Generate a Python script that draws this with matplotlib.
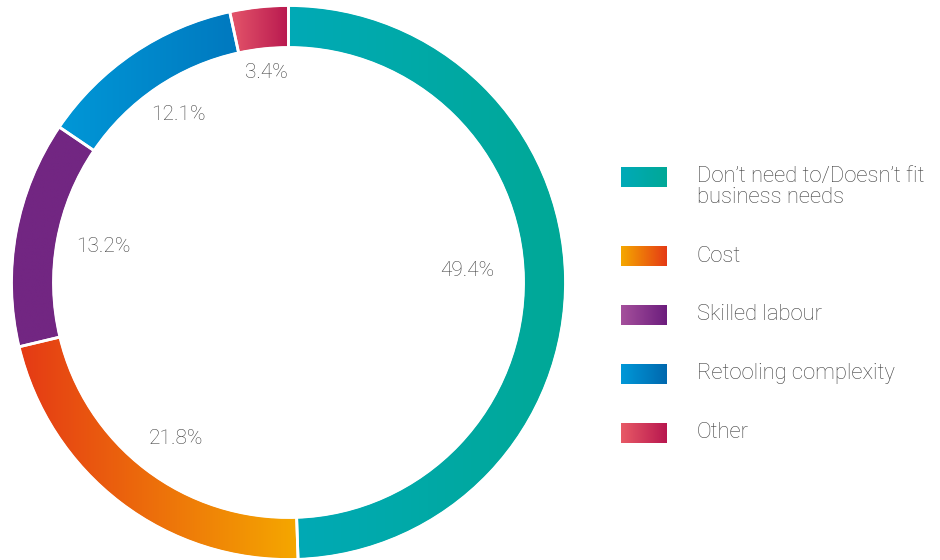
import matplotlib.pyplot as plt
import numpy as np
from matplotlib.patches import Wedge, Rectangle
from matplotlib.colors import LinearSegmentedColormap

plt.rcParams['font.family'] = ['Roboto', 'DejaVu Sans']

labels = ["Don\u2019t need to/Doesn\u2019t fit\nbusiness needs", "Cost", "Skilled labour",
          "Retooling complexity", "Other"]
values = [49.4, 21.8, 13.2, 12.1, 3.4]

# left -> right gradient colours for the ring segments and legend swatches
ring_grad = [("#00aab6", "#00a896"), ("#e53a15", "#f5a800"), ("#722682", "#722682"),
             ("#0097d7", "#0070b8"), ("#e5566a", "#b8184f")]
key_grad = [("#00aab8", "#00a897"), ("#f5a800", "#e53a15"), ("#a5509c", "#6c1d7d"),
            ("#0098d8", "#0068ae"), ("#e85a66", "#b8174f")]

# label anchor positions (pixels from top-left)
label_pos = [(467, 270), (176, 438), (103, 246), (178, 115), (266, 73)]

W, H = 940, 560
fig = plt.figure(figsize=(9.4, 5.6), dpi=100)
ax = fig.add_axes([0, 0, 1, 1])
ax.set_xlim(0, W)
ax.set_ylim(0, H)
ax.axis("off")

cx, cy = 288.5, H - 282.5
r_out, ring_w = 276, 40
grey = "#404040"


def gradient_fill(ax, patch, c1, c2):
    ax.add_patch(patch)
    verts = patch.get_path().vertices
    verts = patch.get_patch_transform().transform(verts)
    x0, x1 = verts[:, 0].min(), verts[:, 0].max()
    y0, y1 = verts[:, 1].min(), verts[:, 1].max()
    cmap = LinearSegmentedColormap.from_list("g", [c1, c2])
    grad = np.linspace(0, 1, 256).reshape(1, -1)
    im = ax.imshow(grad, cmap=cmap, extent=(x0, x1, y0, y1), aspect="auto",
                   interpolation="bilinear", zorder=1)
    im.set_clip_path(patch)


start = 90.0
total = sum(values)
for val, (c1, c2) in zip(values, ring_grad):
    sweep = val / total * 360
    w = Wedge((cx, cy), r_out, start - sweep, start, width=ring_w,
              facecolor="none", edgecolor="none")
    gradient_fill(ax, w, c1, c2)
    # white separator line
    ax.add_patch(Wedge((cx, cy), r_out + 1, start - sweep, start, width=ring_w + 2,
                       facecolor="none", edgecolor="white", lw=2, zorder=2))
    start -= sweep

for val, (x, y) in zip(values, label_pos):
    ax.text(x, H - y, f"{val}%", fontsize=15, color=grey, fontweight="light",
            ha="center", va="center")

# legend
rows = [177, 256, 315, 374, 433]
for lab, (c1, c2), y in zip(labels, key_grad, rows):
    rect = Rectangle((621, H - y - 10), 46, 20, facecolor="none", edgecolor="none")
    gradient_fill(ax, rect, c1, c2)
    ty = H - y - (10 if "\n" in lab else 0)
    ax.text(697, ty, lab, fontsize=15.8, color=grey, fontweight="light",
            ha="left", va="center", linespacing=0.98)

plt.savefig("out.png", dpi=100, facecolor="white")
